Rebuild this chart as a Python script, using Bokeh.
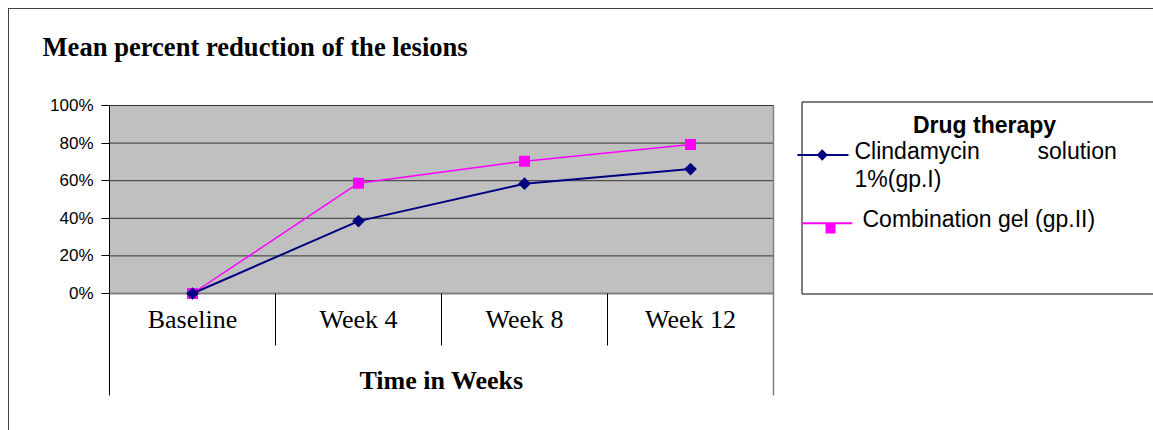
import numpy as np
from bokeh.plotting import figure
from bokeh.models import Range1d, FixedTicker, PrintfTickFormatter
from bokeh.core.properties import value
from bokeh.embed import file_html
from bokeh.resources import INLINE

# ---------------- data ----------------
title_text = "Mean percent reduction of the lesions"
categories = ["Baseline", "Week 4", "Week 8", "Week 12"]
clindamycin = [0, 38.5, 58.4, 66.2]
combination = [0, 58.7, 70.4, 79.3]
y_ticks = [0, 20, 40, 60, 80, 100]
x_title = "Time in Weeks"
legend_title = "Drug therapy"
legend_clinda = ["Clindamycin", "solution", "1%(gp.I)"]
legend_combo = "Combination gel (gp.II)"

# ---------------- geometry (pixel layout -> data units) ----------------
W, H = 1153, 430
FL, FT = 109, 70            # frame left / top in pixels
ZERO_PX, HUNDRED_PX = 293, 105
CAT_PX = 166                # pixels per category
PX = (ZERO_PX - HUNDRED_PX) / 100.0
TXT_SHIFT = 8               # baseline correction for text glyphs
n = len(categories)
xpos = np.arange(n) + 0.5

def X(px):
    return (px - FL) / CAT_PX

def Y(py):
    return (ZERO_PX - py) / PX

def YT(py):
    return Y(py - TXT_SHIFT)

p = figure(width=W, height=H,
           x_range=Range1d(X(FL), X(W)), y_range=Range1d(Y(H), Y(FT)),
           x_axis_type=None, output_backend="svg", toolbar_location=None,
           min_border_left=FL, min_border_right=0, min_border_top=FT,
           min_border_bottom=0)
p.outline_line_color = None
p.background_fill_color = "white"
p.border_fill_color = "white"
p.ygrid.visible = False

# outer chart-area border (Excel style), drawn with CSS
p.stylesheets = [":host::after{content:'';position:absolute;left:8px;top:8px;right:0;"
                 "bottom:0;border-left:1px solid #404040;border-top:1px solid #404040;"
                 "pointer-events:none;z-index:100;}"]

# title
p.title.text = title_text
p.title.align = "left"
p.title.offset = 42 - FL
p.title.text_font = "Liberation Serif"
p.title.text_font_style = "bold"
p.title.text_font_size = "26.6px"
p.title.text_color = "black"
p.title.standoff = 18

# plot area
p.quad(left=[0], right=[n], bottom=[0], top=[100], fill_color="#C0C0C0",
       line_color=None, level="image")
grid_vals = [t for t in y_ticks if t > 0]
p.segment(x0=[0] * len(grid_vals), y0=grid_vals, x1=[n] * len(grid_vals), y1=grid_vals,
          line_color="#333333", line_width=1)

# y axis
ax = p.yaxis[0]
ax.ticker = FixedTicker(ticks=y_ticks)
ax.formatter = PrintfTickFormatter(format="%d%%")
ax.major_label_text_font = "Liberation Sans"
ax.major_label_text_font_size = "17px"
ax.major_label_text_color = "black"
ax.major_tick_out = 8
ax.major_tick_in = 0
ax.minor_tick_out = 0
ax.minor_tick_in = 0
ax.major_label_standoff = 8
ax.axis_line_color = "black"
ax.major_tick_line_color = "black"
ax.bounds = (Y(395), 100)

# zero line, right border, category separators
p.segment(x0=[0], y0=[0], x1=[n], y1=[0], line_color="#808080", line_width=2)
p.segment(x0=[n], y0=[100], x1=[n], y1=[Y(395)], line_color="#808080", line_width=1.5)
seps = list(range(1, n))
p.segment(x0=seps, y0=[0] * len(seps), x1=seps, y1=[Y(345)] * len(seps),
          line_color="black", line_width=1)

# category labels and axis title
p.text(x=xpos, y=[YT(327)] * n, text=categories, text_font=value("Liberation Serif"),
       text_font_size="26px", text_align="center", text_baseline="alphabetic",
       text_color="black")
p.text(x=[n / 2], y=[YT(387.5)], text=[x_title], text_font=value("Liberation Serif"),
       text_font_size="26px", text_font_style="bold", text_align="center",
       text_baseline="alphabetic", text_color="black")

# series
p.line(xpos, combination, line_color="#FF00FF", line_width=1.5)
p.scatter(xpos, combination, marker="square", size=11, fill_color="#FF00FF",
          line_color=None)
p.line(xpos, clindamycin, line_color="#000080", line_width=2)
p.scatter(xpos, clindamycin, marker="square", angle=np.pi / 4, size=9,
          fill_color="#000080", line_color=None)

# legend (drawn by hand, Excel-like)
p.quad(left=[X(801.5)], right=[X(1300)], top=[Y(101.5)], bottom=[Y(293.5)],
       fill_color=None, line_color="black", line_width=1)
p.segment(x0=[X(797)], y0=[Y(154.5)], x1=[X(848)], y1=[Y(154.5)],
          line_color="#000080", line_width=2)
p.scatter([X(821.7)], [Y(154.5)], marker="square", angle=np.pi / 4, size=8,
          fill_color="#000080", line_color=None)
p.segment(x0=[X(801.7)], y0=[Y(222.7)], x1=[X(851.7)], y1=[Y(222.7)],
          line_color="#FF00FF", line_width=2)
p.scatter([X(830)], [Y(228)], marker="square", size=10, fill_color="#FF00FF",
          line_color=None)
p.text(x=[X(984)], y=[YT(132.3)], text=[legend_title], text_font=value("Liberation Sans"),
       text_font_size="23px", text_font_style="bold", text_align="center",
       text_baseline="alphabetic", text_color="black")
p.text(x=[X(854), X(1037), X(854), X(862)],
       y=[YT(158.3), YT(158.3), YT(186.7), YT(226.7)],
       text=legend_clinda + [legend_combo], text_font=value("Liberation Sans"),
       text_font_size="23px", text_align="left", text_baseline="alphabetic",
       text_color="black")

open("out.html", "w").write(file_html(p, INLINE))
